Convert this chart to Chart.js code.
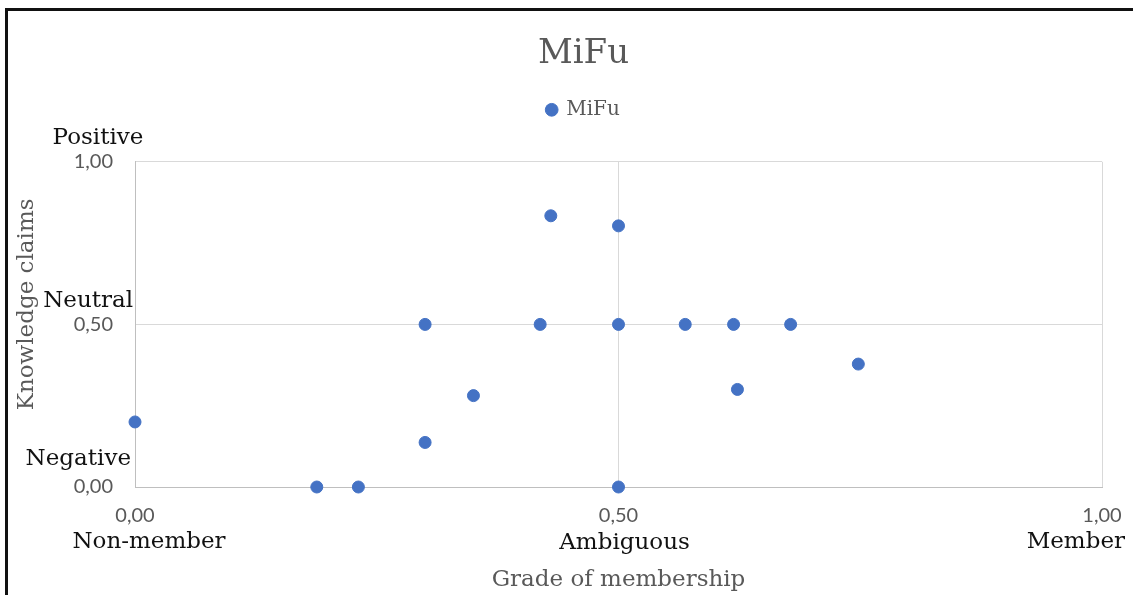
<!DOCTYPE html>
<html>
<head>
<meta charset="utf-8">
<title>MiFu</title>
<script src="https://cdn.jsdelivr.net/npm/chart.js@4"></script>
<style>
  html, body { margin: 0; padding: 0; background: #fff; overflow: hidden; }
  #wrap { position: relative; width: 1133px; height: 595px; }
  #wrap canvas { position: absolute; left: 0; top: 0; }
  #frame {
    position: absolute; left: 5px; top: 8px; width: 1300px; height: 700px;
    border-top: 3px solid #111; border-left: 3px solid #111; pointer-events: none;
  }
</style>
</head>
<body>
<div id="wrap">
  <canvas id="chart" width="1133" height="595"></canvas>
  <div id="frame"></div>
</div>
<script>
// Series: grade of membership (x) against knowledge claims (y)
const seriesName = 'MiFu';
const membership = [0, 0.188, 0.231, 0.30, 0.30, 0.35, 0.419, 0.43, 0.5, 0.5, 0.5, 0.569, 0.619, 0.623, 0.678, 0.748];
const knowledge  = [0.2, 0, 0, 0.5, 0.137, 0.281, 0.5, 0.834, 0.803, 0.5, 0, 0.5, 0.5, 0.3, 0.5, 0.378];

// Axes
const tickValues = [0, 0.5, 1];
const tickLabels = ['0,00', '0,50', '1,00'];
const membershipGrades = ['Non-member', 'Ambiguous', 'Member'];
const claimGrades = ['Negative', 'Neutral', 'Positive'];
const xAxisTitle = 'Grade of membership';
const yAxisTitle = 'Knowledge claims';

const SERIF = '"DejaVu Serif", "Liberation Serif", serif';
const SANS = 'Lato, "Liberation Sans", sans-serif';
const GREY_TEXT = '#595959';
const DOT = '#4472C4';

// Empty layout box that keeps a gap between the legend and the plot
const legendGap = {
  id: 'legendGap',
  beforeInit(chart) {
    Chart.layouts.addBox(chart, {
      position: 'top',
      weight: -10,
      fullSize: true,
      options: {},
      top: 0, left: 0, right: 0, bottom: 0, width: 0, height: 0,
      update(maxWidth) { this.width = maxWidth; this.height = 32; },
      isHorizontal() { return true; },
      draw() {}
    });
  }
};

// Verbal grade names drawn next to the numeric ticks
const gradeLabels = {
  id: 'gradeLabels',
  afterDraw(chart) {
    const { ctx, scales: { x, y }, chartArea } = chart;
    ctx.save();
    ctx.font = '23px ' + SERIF;
    ctx.fillStyle = '#111';
    ctx.textBaseline = 'alphabetic';

    // y side: placed above each tick label
    const yPlace = [
      { align: 'right',  dx: -4,   dy: -22 },
      { align: 'right',  dx: -2,   dy: -17 },
      { align: 'center', dx: -37,  dy: -18 }
    ];
    claimGrades.forEach((name, i) => {
      const p = yPlace[i];
      ctx.textAlign = p.align;
      ctx.fillText(name, chartArea.left + p.dx, y.getPixelForValue(tickValues[i]) + p.dy);
    });

    // x side: placed below each tick label
    const xPlace = [
      { align: 'center', dx: 14,  dy: 61 },
      { align: 'center', dx: 6,   dy: 62 },
      { align: 'right',  dx: 23,  dy: 61 }
    ];
    membershipGrades.forEach((name, i) => {
      const p = xPlace[i];
      ctx.textAlign = p.align;
      ctx.fillText(name, x.getPixelForValue(tickValues[i]) + p.dx, chartArea.bottom + p.dy);
    });

    // vertical axis title
    ctx.font = '23px ' + SERIF;
    ctx.fillStyle = GREY_TEXT;
    ctx.textAlign = 'center';
    ctx.textBaseline = 'middle';
    ctx.translate(chartArea.left - 108, (chartArea.top + chartArea.bottom) / 2 - 20);
    ctx.rotate(-Math.PI / 2);
    ctx.fillText(yAxisTitle, 0, 0);
    ctx.restore();
  }
};

const points = membership.map((m, i) => ({ x: m, y: knowledge[i] }));

function fixedTicks(scale) {
  scale.ticks = tickValues.map(v => ({ value: v }));
}

new Chart(document.getElementById('chart'), {
  type: 'scatter',
  data: {
    datasets: [{
      label: seriesName,
      data: points,
      backgroundColor: DOT,
      borderColor: DOT,
      borderWidth: 1,
      pointRadius: 6,
      pointHoverRadius: 6,
      pointStyle: 'circle',
      clip: false
    }]
  },
  options: {
    responsive: false,
    animation: false,
    devicePixelRatio: 1,
    events: [],
    layout: { padding: { left: 34, right: 0, top: 0, bottom: 0 } },
    plugins: {
      title: {
        display: true,
        text: seriesName,
        color: GREY_TEXT,
        font: { family: SERIF, size: 34, weight: 'normal' },
        padding: { top: 34, bottom: -6 }
      },
      legend: {
        display: true,
        position: 'top',
        labels: {
          usePointStyle: true,
          boxWidth: 9,
          boxHeight: 9,
          padding: 31,
          color: GREY_TEXT,
          font: { family: SERIF, size: 20 }
        }
      },
      tooltip: { enabled: false }
    },
    scales: {
      x: {
        type: 'linear',
        min: 0,
        max: 1,
        afterBuildTicks: fixedTicks,
        afterFit(scale) { scale.height = 108; scale.paddingRight = 31; },
        grid: { color: '#d9d9d9', lineWidth: 1, drawTicks: false },
        border: { color: '#bfbfbf', width: 1 },
        ticks: {
          callback: (v, i) => tickLabels[i],
          color: GREY_TEXT,
          font: { family: SANS, size: 20 },
          padding: 17,
          maxRotation: 0,
          autoSkip: false
        },
        title: {
          display: true,
          text: xAxisTitle,
          color: GREY_TEXT,
          font: { family: SERIF, size: 23 },
          padding: { top: 0, bottom: 1 }
        }
      },
      y: {
        type: 'linear',
        min: 0,
        max: 1,
        afterBuildTicks: fixedTicks,
        afterFit(scale) { scale.width = 101; },
        grid: { color: '#d9d9d9', lineWidth: 1, drawTicks: false },
        border: { color: '#bfbfbf', width: 1 },
        ticks: {
          callback: (v, i) => tickLabels[i],
          color: GREY_TEXT,
          font: { family: SANS, size: 20 },
          padding: 22,
          autoSkip: false
        }
      }
    }
  },
  plugins: [legendGap, gradeLabels]
});
</script>
</body>
</html>
